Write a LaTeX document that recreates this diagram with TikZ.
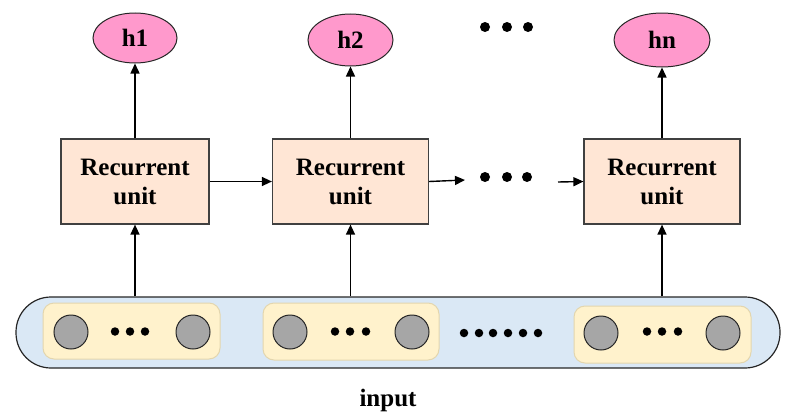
\documentclass[tikz,border=0pt]{standalone}
\usepackage{fontspec}
\setmainfont{Liberation Serif}
\usetikzlibrary{arrows.meta}
\definecolor{peach}{HTML}{FFE6D5}
\definecolor{pinkfill}{HTML}{FF99CC}
\definecolor{bluefill}{HTML}{DAE8F5}
\definecolor{yellowfill}{HTML}{FFF2CC}
\definecolor{yellowline}{HTML}{E3D6AE}
\definecolor{grayfill}{HTML}{A6A6A6}
\tikzset{
  unitbox/.style={draw=black!75, fill=peach, line width=1.2pt, minimum height=85pt, align=center, font=\fontsize{25}{29}\selectfont\bfseries},
  outell/.style={draw=black!85, fill=pinkfill, ellipse, line width=1pt, font=\fontsize{25}{29}\selectfont\bfseries, inner sep=0pt},
  arr/.style={-{Triangle[length=10pt,width=9pt]}, line width=1.4pt},
  conn/.style={line width=1.4pt},
  bigdot/.style={circle, fill=black, inner sep=0pt, minimum size=10pt},
  smalldot/.style={circle, fill=black, inner sep=0pt, minimum size=8.5pt},
  neuron/.style={circle, draw=black!85, fill=grayfill, line width=1pt, minimum size=34pt, inner sep=0pt},
  group/.style={draw=yellowline, fill=yellowfill, line width=1pt, rounded corners=11pt},
}
\usetikzlibrary{shapes.geometric}
\begin{document}
\begin{tikzpicture}[x=1pt, y=-1pt]
\useasboundingbox (0,0) rectangle (786,415);
% input container
\node[draw=black!85, fill=bluefill, line width=1.2pt, minimum width=764pt, minimum height=71pt, rounded corners=35pt, inner sep=0pt] (inp) at (398,332.5) {};
% groups
\node[group, minimum width=177pt, minimum height=56pt] (g1) at (131.5,331) {};
\node[group, minimum width=176pt, minimum height=57pt] (g2) at (351,331.5) {};
\node[group, minimum width=177pt, minimum height=57pt] (g3) at (662.5,334.5) {};
% neurons
\node[neuron] (n11) at (71,332) {};
\node[neuron] (n12) at (193,332) {};
\node[neuron] (n21) at (290,332) {};
\node[neuron] (n22) at (412,332) {};
\node[neuron] (n31) at (601,333) {};
\node[neuron] (n32) at (723,333) {};
\foreach \x/\n in {115/a1,130/a2,145/a3,335/b1,350/b2,366/b3,647/c1,662/c2,678/c3}
  \node[smalldot] (\n) at (\x,331.5) {};
\foreach \x/\n in {464/s1,479/s2,493/s3,508/s4,523/s5,538/s6}
  \node[smalldot] (\n) at (\x,333) {};
% recurrent units
\node[unitbox, minimum width=148pt] (u1) at (135,181.5) {Recurrent\\unit};
\node[unitbox, minimum width=156pt] (u2) at (350.5,181.5) {Recurrent\\unit};
\node[unitbox, minimum width=156pt] (u3) at (662,181.5) {Recurrent\\unit};
% outputs
\node[outell, minimum width=84pt, minimum height=50pt] (h1) at (135,38) {h1};
\node[outell, minimum width=85pt, minimum height=52pt] (h2) at (350.5,40) {h2};
\node[outell, minimum width=96pt, minimum height=54pt] (hn) at (662,40) {hn};
% dots
\node[bigdot] (t1) at (485,27) {};
\node[bigdot] (t2) at (507,27) {};
\node[bigdot] (t3) at (528,27) {};
\node[bigdot] (m1) at (485,177) {};
\node[bigdot] (m2) at (507,177) {};
\node[bigdot] (m3) at (527,177) {};
\coordinate (d1) at (465,180);
\coordinate (d2) at (558,182);
% connectors
\draw[arr] (u1.north) -- (h1.south);
\draw[arr] (u2.north) -- (h2.south);
\draw[arr] (u3.north) -- (hn.south);
\draw[arr] (u1.east) -- (u2.west);
\draw[arr] (u2.east) -- (d1);
\draw[arr] (d2) -- (u3.west);
\draw[arr] (u1.south |- inp.north) -- (u1.south);
\draw[arr] (u2.south |- inp.north) -- (u2.south);
\draw[arr] (u3.south |- inp.north) -- (u3.south);
% label
\node[font=\fontsize{25}{29}\selectfont\bfseries] (lbl) at (388,400) {input};
\end{tikzpicture}
\end{document}
